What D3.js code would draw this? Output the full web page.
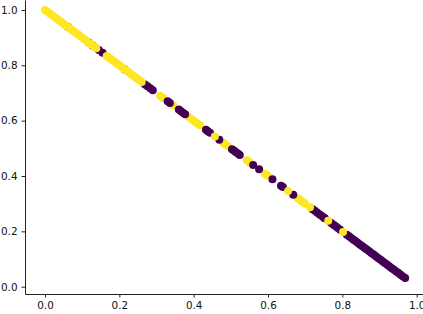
<!DOCTYPE html>
<html>
<head>
<meta charset="utf-8">
<script src="https://cdn.jsdelivr.net/npm/d3@7"></script>
<style>
  html, body { margin: 0; padding: 0; background: #fff; overflow: hidden; }
  svg { display: block; }
  .tick text { font-family: "DejaVu Sans", sans-serif; font-size: 10.4px; fill: #111; }
  .domain, .tick line { stroke: #222; }
</style>
</head>
<body>
<div id="chart"></div>
<script>
const TICKS = [0, 0.2, 0.4, 0.6, 0.8, 1];

// clase 1 (amarillo) que queda debajo del morado
const yellowUnderX = [
  0.31, 0.318, 0.345, 0.385, 0.395, 0.404, 0.41, 0.417, 0.48, 0.486, 0.493, 0.543, 0.548,
  0.552, 0.592, 0.598, 0.68, 0.685, 0.69, 0.695, 0.7
];
const yellowUnderY = [
  0.69, 0.682, 0.655, 0.615, 0.605, 0.596, 0.59, 0.583, 0.52, 0.514, 0.507, 0.457, 0.452,
  0.448, 0.408, 0.402, 0.32, 0.315, 0.31, 0.305, 0.3
];

// clase 0 (morado)
const purpleX = [
  0.062, 0.118, 0.128, 0.145, 0.155, 0.215, 0.269, 0.276, 0.283, 0.29, 0.33, 0.336,
  0.36, 0.366, 0.372, 0.377, 0.433, 0.438, 0.444, 0.469, 0.503, 0.508, 0.513, 0.519, 0.524,
  0.56, 0.576, 0.612, 0.635, 0.64, 0.668, 0.72, 0.726, 0.732, 0.738, 0.744, 0.75, 0.753,
  0.77, 0.776, 0.782, 0.788, 0.794, 0.812, 0.818, 0.824, 0.83, 0.836, 0.842, 0.848, 0.854,
  0.86, 0.866, 0.872, 0.878, 0.884, 0.89, 0.896, 0.902, 0.908, 0.914, 0.92, 0.926, 0.932,
  0.938, 0.944, 0.95, 0.956, 0.962, 0.969
];
const purpleY = [
  0.938, 0.882, 0.872, 0.855, 0.845, 0.785, 0.731, 0.724, 0.717, 0.71, 0.67, 0.664,
  0.64, 0.634, 0.628, 0.623, 0.567, 0.562, 0.556, 0.531, 0.497, 0.492, 0.487, 0.481, 0.476,
  0.44, 0.424, 0.388, 0.365, 0.36, 0.332, 0.28, 0.274, 0.268, 0.262, 0.256, 0.25, 0.247,
  0.23, 0.224, 0.218, 0.212, 0.206, 0.188, 0.182, 0.176, 0.17, 0.164, 0.158, 0.152, 0.146,
  0.14, 0.134, 0.128, 0.122, 0.116, 0.11, 0.104, 0.098, 0.092, 0.086, 0.08, 0.074, 0.068,
  0.062, 0.056, 0.05, 0.044, 0.038, 0.031
];

// clase 1 (amarillo) que queda encima
const yellowX = [
  0, 0.006, 0.012, 0.018, 0.024, 0.03, 0.036, 0.042, 0.048, 0.054, 0.06, 0.066, 0.072,
  0.078, 0.084, 0.09, 0.096, 0.102, 0.108, 0.114, 0.12, 0.126, 0.132, 0.138,
  0.166, 0.172, 0.178, 0.184, 0.19, 0.196, 0.202, 0.208, 0.214, 0.22, 0.226, 0.232,
  0.238, 0.244, 0.25, 0.256, 0.26, 0.457, 0.654, 0.713, 0.762, 0.802
];
const yellowY = [
  1, 0.994, 0.988, 0.982, 0.976, 0.97, 0.964, 0.958, 0.952, 0.946, 0.94, 0.934, 0.928,
  0.922, 0.916, 0.91, 0.904, 0.898, 0.892, 0.886, 0.88, 0.874, 0.868, 0.862,
  0.834, 0.828, 0.822, 0.816, 0.81, 0.804, 0.798, 0.792, 0.786, 0.78, 0.774, 0.768,
  0.762, 0.756, 0.75, 0.744, 0.74, 0.543, 0.346, 0.287, 0.238, 0.198
];

const width = 423;
const height = 314;

const x = d3.scaleLinear().domain([-0.0538, 1.017]).range([25, 423]);
const y = d3.scaleLinear().domain([-0.0264, 1.036]).range([294, 0]);

const svg = d3.select("#chart").append("svg")
  .attr("width", width)
  .attr("height", height)
  .attr("viewBox", [0, 0, width, height]);

function drawPoints(xs, ys, color) {
  svg.append("g")
    .selectAll("circle")
    .data(xs.map((d, i) => [d, ys[i]]))
    .join("circle")
    .attr("cx", (d) => x(d[0]))
    .attr("cy", (d) => y(d[1]))
    .attr("r", 4)
    .attr("fill", color);
}

drawPoints(yellowUnderX, yellowUnderY, "#fde725");
drawPoints(purpleX, purpleY, "#440154");
drawPoints(yellowX, yellowY, "#fde725");

svg.append("g")
  .attr("transform", `translate(0,${y.range()[0]})`)
  .call(d3.axisBottom(x).tickValues(TICKS).tickFormat(d3.format(".1f")).tickSize(3.5).tickSizeOuter(0).tickPadding(4));

svg.append("g")
  .attr("transform", `translate(${x.range()[0]},0)`)
  .call(d3.axisLeft(y).tickValues(TICKS).tickFormat(d3.format(".1f")).tickSize(3.5).tickSizeOuter(0).tickPadding(4));
</script>
</body>
</html>
